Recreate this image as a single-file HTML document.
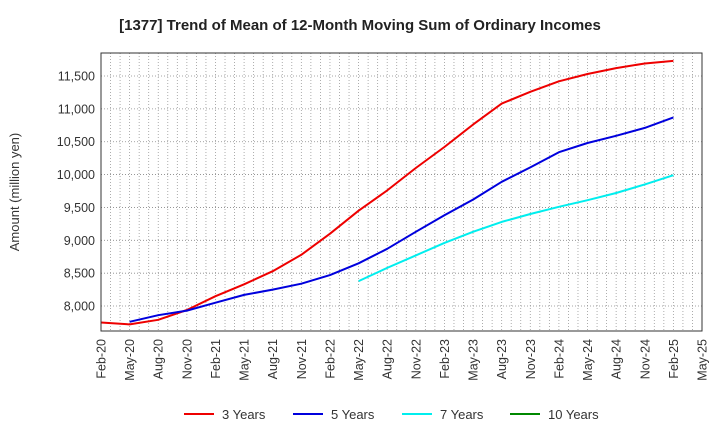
<!DOCTYPE html>
<html><head><meta charset="utf-8">
<style>
body{margin:0;background:#fff;font-family:"Liberation Sans",Arial,sans-serif;}
svg{display:block}
</style></head>
<body>
<svg id="chart" width="720" height="440" xmlns="http://www.w3.org/2000/svg" font-family="Liberation Sans, Arial, sans-serif">
<text x="360" y="30" text-anchor="middle" font-size="15" font-weight="bold" fill="#222">[1377]  Trend of Mean of 12-Month Moving Sum of Ordinary Incomes</text>
<g id="grid"></g>
<g id="yaxis"></g>
<g id="xaxis"></g>
<g id="series"></g>
<rect x="101" y="53" width="601" height="278" fill="none" stroke="#333" stroke-width="1"/>
<text transform="translate(19,192) rotate(-90)" text-anchor="middle" font-size="13" fill="#333">Amount (million yen)</text>
<g id="legend"></g>
</svg>
<script>
const xTickLabels=["Feb-20","May-20","Aug-20","Nov-20","Feb-21","May-21","Aug-21","Nov-21","Feb-22","May-22","Aug-22","Nov-22","Feb-23","May-23","Aug-23","Nov-23","Feb-24","May-24","Aug-24","Nov-24","Feb-25","May-25"];
const yTicks=[8000,8500,9000,9500,10000,10500,11000,11500];
const seriesNames=["3 Years","5 Years","7 Years","10 Years"];
const seriesColors=["#ee0000","#0000dd","#00eeee","#008800"];
// quarterly values; start index = quarter index from Feb-20
const s3Start=0;
const s3=[7750,7720,7790,7940,8150,8330,8530,8780,9100,9450,9760,10100,10420,10760,11080,11260,11420,11530,11620,11690,11730];
const s5Start=1;
const s5=[7760,7860,7930,8050,8170,8250,8340,8470,8650,8870,9130,9380,9620,9890,10110,10340,10480,10590,10710,10870];
const s7Start=9;
const s7=[8380,8580,8770,8960,9130,9280,9400,9510,9610,9720,9850,9990];
const ns="http://www.w3.org/2000/svg";
const L=101,R=702,T=53,B=331;
const yMin=7620,yMax=11850;
function xq(q){return L+q*(R-L)/(xTickLabels.length-1);}
function xm(m){return L+m*(R-L)/((xTickLabels.length-1)*3);}
function y(v){return B-(v-yMin)/(yMax-yMin)*(B-T);}
function el(t,a,p){const e=document.createElementNS(ns,t);for(const k in a)e.setAttribute(k,a[k]);p.appendChild(e);return e;}
const grid=document.getElementById('grid'),ya=document.getElementById('yaxis'),xa=document.getElementById('xaxis'),sg=document.getElementById('series'),lg=document.getElementById('legend');
for(let m=1;m<(xTickLabels.length-1)*3;m++){
  const g=el('line',{x1:xm(m),x2:xm(m),y1:T,y2:B,stroke:'#999','stroke-width':0.8,'stroke-dasharray':'1,2'},grid);
  
  
}
yTicks.forEach(v=>{
  const g=el('line',{x1:L,x2:R,y1:y(v),y2:y(v),stroke:'#888','stroke-width':0.8,'stroke-dasharray':'1,2'},grid);
  
  
  const t=el('text',{x:L-6,y:y(v)+4.5,'text-anchor':'end','font-size':12.5,fill:'#333'},ya);
  
  
  t.textContent=v.toLocaleString('en-US');
});
xTickLabels.forEach((s,i)=>{
  const t=el('text',{transform:`translate(${xq(i)+4.5},${B+8}) rotate(-90)`,'text-anchor':'end','font-size':12.5,fill:'#333'},xa);
  
  
  t.textContent=s;
});
function draw(vals,start,color,name){
  const pts=vals.map((v,i)=>xq(start+i).toFixed(1)+','+y(v).toFixed(1)).join(' ');
  const p=el('polyline',{points:pts,fill:'none',stroke:color,'stroke-width':2,'stroke-linejoin':'round'},sg);
  
  
}
draw(s3,s3Start,seriesColors[0],'line-3-years');
draw(s5,s5Start,seriesColors[1],'line-5-years');
draw(s7,s7Start,seriesColors[2],'line-7-years');
const lx=[184,293,402,510];
seriesNames.forEach((n,i)=>{
  const l=el('line',{x1:lx[i],x2:lx[i]+30,y1:414,y2:414,stroke:seriesColors[i],'stroke-width':2},lg);
  
  
  const t=el('text',{x:lx[i]+38,y:419,'font-size':13,fill:'#333'},lg);
  
  
  t.textContent=n;
});
</script>
</body></html>
